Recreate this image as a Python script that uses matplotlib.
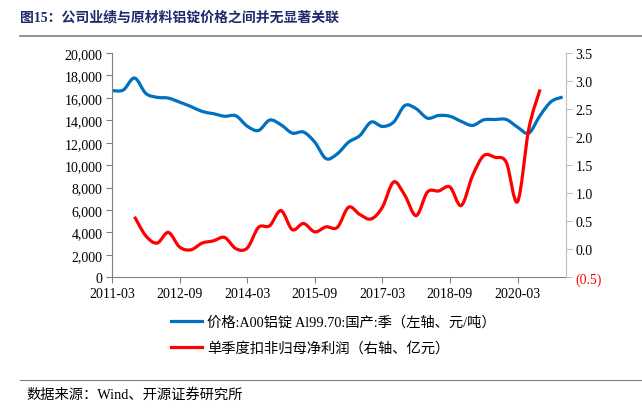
"""
Aluminium ingot price vs quarterly net profit (recreation of fig 15)
"""
#%% imports

import matplotlib
matplotlib.use("Agg")
import matplotlib.pyplot as plt
import numpy as np
from matplotlib.path import Path
from matplotlib.patches import PathPatch
from matplotlib.lines import Line2D

plt.rcParams['font.family'] = ['Liberation Serif', 'Noto Sans CJK SC', 'DejaVu Sans']
plt.rcParams['axes.unicode_minus'] = False

#%% data (quarterly, index 0 = 2011-03)

price_q = list(range(0, 41))
price = [16650, 16700, 17770, 16400, 16050, 15980, 15620, 15230, 14790, 14590,
         14360, 14400, 13480, 13090, 14020, 13600, 12860, 12950, 12050, 10580,
         11010, 12050, 12640, 13840, 13450, 13840, 15320, 15030, 14190, 14430,
         14360, 13900, 13540, 14040, 14070, 14070, 13390, 12860, 14430, 15680,
         16070]

profit_q = list(range(2, 39))
profit = [0.58, 0.24, 0.11, 0.30, 0.04, -0.01, 0.11, 0.15, 0.21, 0.01,
          0.02, 0.39, 0.42, 0.69, 0.35, 0.46, 0.31, 0.40, 0.39, 0.75,
          0.62, 0.54, 0.75, 1.20, 0.96, 0.60, 1.02, 1.04, 1.11, 0.78,
          1.31, 1.67, 1.64, 1.55, 0.85, 2.15, 2.85]

tick_q = [0, 6, 12, 18, 24, 30, 36]
tick_labels = ['2011-03', '2012-09', '2014-03', '2015-09', '2017-03', '2018-09', '2020-03']

title = '图15：公司业绩与原材料铝锭价格之间并无显著关联'
label_price = '价格:A00铝锭 Al99.70:国产:季（左轴、元/吨）'
label_profit = '单季度扣非归母净利润（右轴、亿元）'
source = '数据来源：Wind、开源证券研究所'

blue = '#0070C0'
red = '#FF0000'


#%% smooth line helper (excel-like bezier through the points)

def smooth_path(x, y):
    x = np.asarray(x, float)
    y = np.asarray(y, float)
    px = np.concatenate([[x[0]], x, [x[-1]]])
    py = np.concatenate([[y[0]], y, [y[-1]]])
    verts = [(x[0], y[0])]
    codes = [Path.MOVETO]
    for i in range(1, len(px) - 2):
        c1 = (px[i] + (px[i+1] - px[i-1]) / 6, py[i] + (py[i+1] - py[i-1]) / 6)
        c2 = (px[i+1] - (px[i+2] - px[i]) / 6, py[i+1] - (py[i+2] - py[i]) / 6)
        verts += [c1, c2, (px[i+1], py[i+1])]
        codes += [Path.CURVE4] * 3
    return Path(verts, codes)


#%% figure

fig = plt.figure(figsize=(6.42, 4.14), dpi=100)
ax = fig.add_axes([112/642, 1-278.3/414, (566-112)/642, (278.3-54)/414])
ax2 = ax.twinx()

ax.add_patch(PathPatch(smooth_path(price_q, price), fc='none', ec=blue, lw=2.3,
                       capstyle='butt'))
ax2.add_patch(PathPatch(smooth_path(profit_q, profit), fc='none', ec=red, lw=2.3,
                        capstyle='butt'))

# left axis
ax.set_xlim(0, 40.3)
ax.set_ylim(0, 20000)
ax.set_yticks(np.arange(0, 20001, 2000))
ax.set_yticklabels([f'{v:,}' for v in range(0, 20001, 2000)])
ax.set_xticks(tick_q)
ax.set_xticklabels(tick_labels)

# right axis
ax2.set_ylim(-0.5, 3.5)
rticks = np.arange(-0.5, 3.51, 0.5)
ax2.set_yticks(rticks)
ax2.set_yticklabels(['(0.5)' if v < 0 else f'{v:.1f}' for v in rticks])
ax2.get_yticklabels()[0].set_color(red)

for a in (ax, ax2):
    a.spines['top'].set_visible(False)
    a.tick_params(labelsize=10, length=4, width=0.8, color='#808080', pad=3)
ax.spines['right'].set_visible(False)
ax2.spines['left'].set_visible(False)
ax2.spines['bottom'].set_visible(False)
ax.spines['left'].set_color('#808080')
ax.spines['bottom'].set_color('#808080')
ax2.spines['right'].set_color('#BFBFBF')
ax2.tick_params(axis='y', color='#BFBFBF')

# legend
handles = [Line2D([], [], color=blue, lw=2.3), Line2D([], [], color=red, lw=2.3)]
fig.legend(handles, [label_price, label_profit], loc='upper left',
           bbox_to_anchor=(171/642, 1-316/414), frameon=False, fontsize=10.3,
           handlelength=2.2, handletextpad=0.3, labelspacing=0.85,
           borderpad=0, borderaxespad=0)

# title, rules and source
fig.text(20/642, 1-18/414, title, fontsize=10, fontweight='bold', color='#1F2A6E',
         va='center', ha='left')
fig.add_artist(Line2D([20/642, 1], [1-37/414, 1-37/414], color='#7F7F7F', lw=1.2))
fig.add_artist(Line2D([20/642, 1], [1-381/414, 1-381/414], color='#7F7F7F', lw=0.8))
fig.text(26/642, 1-395/414, source, fontsize=10.3, va='center', ha='left')

plt.savefig('out.png', dpi=100)
